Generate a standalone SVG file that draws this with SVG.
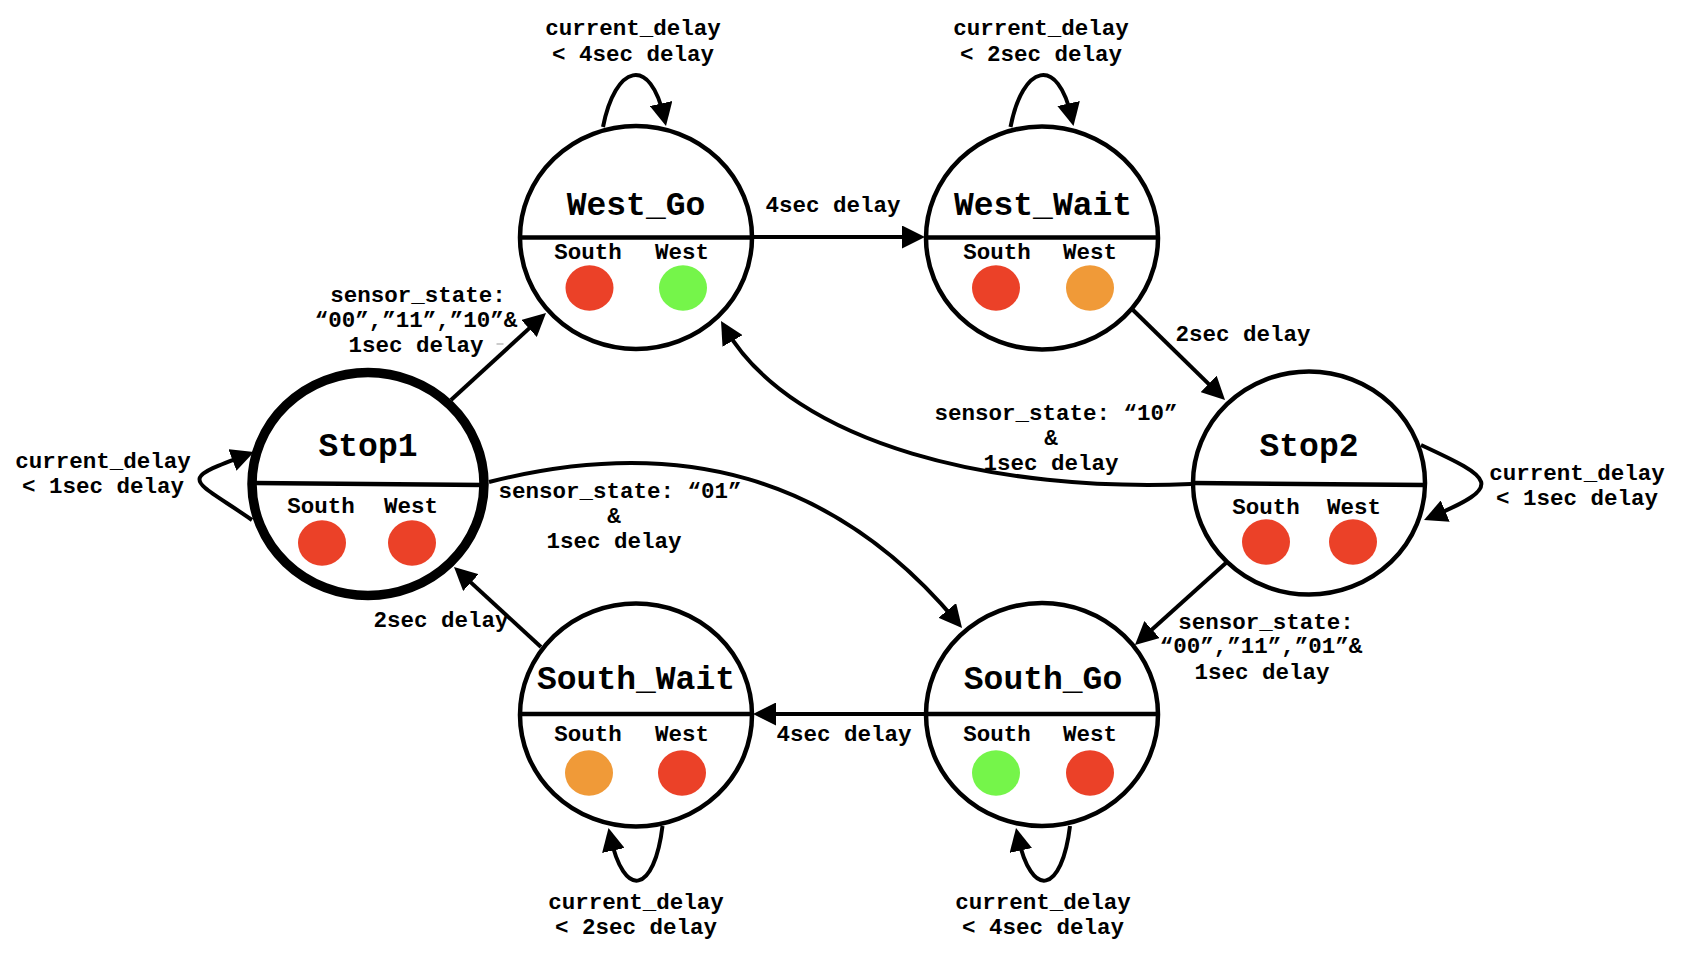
<svg xmlns="http://www.w3.org/2000/svg" width="1696" height="964" viewBox="0 0 1696 964">
<style>
  .node { fill: #ffffff; stroke: #000000; stroke-width: 4.5; }
  .start { stroke-width: 9.5; }
  .div { stroke: #000000; stroke-width: 4.5; }
  .title { font-family: "Liberation Mono", "Courier New", monospace; font-weight: bold; font-size: 33px; text-anchor: middle; fill: #000; }
  .lab { font-family: "Liberation Mono", "Courier New", monospace; font-weight: bold; font-size: 22.5px; text-anchor: middle; fill: #000; }
  .edge { fill: none; stroke: #000000; stroke-width: 4; marker-end: url(#arrow); }
  .red { fill: #EB4128; }
  .green { fill: #75F54A; }
  .orange { fill: #F09A38; }
</style>
<defs>
  <marker id="arrow" viewBox="0 0 23 23" markerUnits="userSpaceOnUse" markerWidth="23" markerHeight="23" refX="15" refY="11.5" orient="auto">
    <path d="M0,0 L23,11.5 L0,23 z" fill="#000000"/>
  </marker>
</defs>
<rect x="0" y="0" width="1696" height="964" fill="#ffffff"/>

<g id="connectors">
  <path class="edge" d="M451,400 L540.1,318.4"/>
  <path class="edge" d="M752,237 L917,237"/>
  <path class="edge" d="M1133,310 L1219.3,394.4"/>
  <path class="edge" d="M1227,562 L1140.9,639.6"/>
  <path class="edge" d="M925,714 L761,714"/>
  <path class="edge" d="M541,647 L459.9,572.4"/>
  <path class="edge" d="M489,482 C679,434 834.9,475.9 956.9,621.9"/>
  <path class="edge" d="M1191,484 C1000,492 794,446.9 725,327.9"/>
  <path class="edge" d="M603,127 C615,65 650.3,54.2 664.3,118.2"/>
  <path class="edge" d="M1010.5,127 C1022.5,65 1057.8,54.2 1071.8,118.2"/>
  <path class="edge" d="M1070,826 C1062,893 1031.7,900.8 1017.7,835.8"/>
  <path class="edge" d="M662.5,826 C654.5,893 624.2,900.8 610.2,835.8"/>
  <path class="edge" d="M252,520 C190.5,477.3 176,481 246.5,454.8"/>
  <path class="edge" d="M1421,445 C1493.8,478.6 1505,485.7 1431.4,516.9"/>
</g>

<g id="edge-labels">
  <text class="lab" x="633" y="35">current_delay</text>
  <text class="lab" x="633" y="61">&lt; 4sec delay</text>
  <text class="lab" x="1041" y="35">current_delay</text>
  <text class="lab" x="1041" y="61">&lt; 2sec delay</text>
  <text class="lab" x="833" y="212">4sec delay</text>
  <text class="lab" x="1243" y="341">2sec delay</text>
  <text class="lab" x="418" y="302">sensor_state:</text>
  <text class="lab" x="416" y="327">“00”,”11”,”10”&amp;</text>
  <text class="lab" x="416" y="352">1sec delay</text>
  <line x1="496.5" y1="344" x2="503.5" y2="344" stroke="#bbbbbb" stroke-width="1.5"/>
  <text class="lab" x="1056" y="420">sensor_state: “10”</text>
  <text class="lab" x="1051" y="445">&amp;</text>
  <text class="lab" x="1051" y="470">1sec delay</text>
  <text class="lab" x="620" y="498">sensor_state: “01”</text>
  <text class="lab" x="614" y="523">&amp;</text>
  <text class="lab" x="614" y="548">1sec delay</text>
  <text class="lab" x="103" y="468">current_delay</text>
  <text class="lab" x="103" y="493">&lt; 1sec delay</text>
  <text class="lab" x="1577" y="480">current_delay</text>
  <text class="lab" x="1577" y="505">&lt; 1sec delay</text>
  <text class="lab" x="441" y="627">2sec delay</text>
  <text class="lab" x="844" y="741">4sec delay</text>
  <text class="lab" x="1266" y="629">sensor_state:</text>
  <text class="lab" x="1261" y="653">“00”,”11”,”01”&amp;</text>
  <text class="lab" x="1262" y="679">1sec delay</text>
  <text class="lab" x="636" y="909">current_delay</text>
  <text class="lab" x="636" y="934">&lt; 2sec delay</text>
  <text class="lab" x="1043" y="909">current_delay</text>
  <text class="lab" x="1043" y="934">&lt; 4sec delay</text>
</g>

<g id="West_Go">
  <ellipse class="node" cx="636" cy="237.5" rx="116" ry="111.5"/>
  <line class="div" x1="520" y1="237.5" x2="752" y2="237.5"/>
  <text class="title" x="636" y="215">West_Go</text>
  <text class="lab" x="588" y="259">South</text>
  <text class="lab" x="682" y="259">West</text>
  <ellipse class="red" cx="589.5" cy="288" rx="24" ry="22.8"/>
  <ellipse class="green" cx="683" cy="288" rx="24" ry="22.8"/>
</g>

<g id="West_Wait">
  <ellipse class="node" cx="1042" cy="238" rx="116" ry="111.5"/>
  <line class="div" x1="926" y1="237.5" x2="1158" y2="237.5"/>
  <text class="title" x="1043" y="215">West_Wait</text>
  <text class="lab" x="997" y="259">South</text>
  <text class="lab" x="1090" y="259">West</text>
  <ellipse class="red" cx="996" cy="288" rx="24" ry="22.8"/>
  <ellipse class="orange" cx="1090" cy="288" rx="24" ry="22.8"/>
</g>

<g id="Stop1">
  <ellipse class="node start" cx="368" cy="484" rx="116" ry="111.5"/>
  <line class="div" x1="253" y1="483" x2="483" y2="485"/>
  <text class="title" x="368" y="456">Stop1</text>
  <text class="lab" x="321" y="513">South</text>
  <text class="lab" x="411" y="513">West</text>
  <ellipse class="red" cx="322" cy="543" rx="24" ry="22.8"/>
  <ellipse class="red" cx="412" cy="543" rx="24" ry="22.8"/>
</g>

<g id="Stop2">
  <ellipse class="node" cx="1309" cy="483" rx="116" ry="111.5"/>
  <line class="div" x1="1193" y1="483" x2="1425" y2="485"/>
  <text class="title" x="1309" y="456">Stop2</text>
  <text class="lab" x="1266" y="514">South</text>
  <text class="lab" x="1354" y="514">West</text>
  <ellipse class="red" cx="1266" cy="542" rx="24" ry="22.8"/>
  <ellipse class="red" cx="1353" cy="542" rx="24" ry="22.8"/>
</g>

<g id="South_Wait">
  <ellipse class="node" cx="636" cy="715" rx="116" ry="111.5"/>
  <line class="div" x1="520" y1="714" x2="752" y2="714"/>
  <text class="title" x="636" y="689">South_Wait</text>
  <text class="lab" x="588" y="741">South</text>
  <text class="lab" x="682" y="741">West</text>
  <ellipse class="orange" cx="589" cy="773" rx="24" ry="22.8"/>
  <ellipse class="red" cx="682" cy="773" rx="24" ry="22.8"/>
</g>

<g id="South_Go">
  <ellipse class="node" cx="1042" cy="714.5" rx="116" ry="111.5"/>
  <line class="div" x1="926" y1="714" x2="1158" y2="714"/>
  <text class="title" x="1043" y="689">South_Go</text>
  <text class="lab" x="997" y="741">South</text>
  <text class="lab" x="1090" y="741">West</text>
  <ellipse class="green" cx="996" cy="773" rx="24" ry="22.8"/>
  <ellipse class="red" cx="1090" cy="773" rx="24" ry="22.8"/>
</g>
</svg>
